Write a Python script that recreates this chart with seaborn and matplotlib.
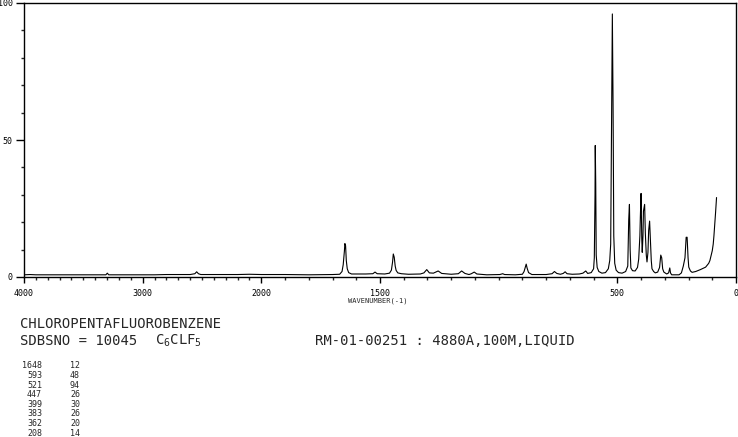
import numpy as np
import pandas as pd
import seaborn as sns
import matplotlib.pyplot as plt
from matplotlib.ticker import FixedLocator

# Raman spectrum (wavenumber cm-1, relative intensity %)
wavenumber = [4000, 3950, 3900, 3700, 3310, 3298, 3286, 3000, 2900, 2800,
              2600, 2560, 2545, 2530, 2510, 2400, 2200, 2100, 2000, 1900,
              1800, 1700, 1670, 1660, 1655, 1650, 1648, 1645, 1642, 1638,
              1632, 1620, 1560, 1530, 1521, 1512, 1480, 1460, 1452, 1447,
              1444, 1440, 1436, 1432, 1425, 1410, 1380, 1330, 1315, 1303,
              1292, 1275, 1255, 1240, 1200, 1170, 1156, 1142, 1125, 1115,
              1103, 1092, 1050, 995, 983, 975, 930, 900, 893, 888,
              884, 880, 874, 860, 800, 775, 765, 755, 740, 728,
              720, 712, 690, 660, 645, 633, 625, 610, 600, 597,
              594, 593, 591, 589, 585, 578, 565, 550, 538, 532,
              528, 525, 521, 518, 515, 511, 505, 495, 480, 465,
              456, 452, 449, 446, 443, 436, 425, 415, 410, 405,
              403, 400, 397, 395, 392, 390, 385, 382, 378, 375,
              371, 368, 364, 361, 357, 354, 347, 340, 330, 322,
              317, 313, 309, 304, 292, 284, 279, 276, 271, 240,
              230, 222, 215, 210, 206, 202, 199, 192, 185, 170,
              150, 128, 115, 110, 103, 100, 96, 93, 90, 86, 82]
intensity = [0.8, 0.9, 0.8, 0.8, 0.8, 1.4, 0.8, 0.8, 0.8, 0.9,
             0.9, 1.2, 1.9, 1.2, 0.9, 0.9, 0.9, 1.0, 0.9, 0.9,
             0.8, 0.9, 1.0, 2.0, 4.5, 9.5, 12.2, 11.4, 6.0, 3.0,
             1.6, 1.1, 1.1, 1.2, 1.8, 1.2, 1.1, 1.4, 2.5, 5.5,
             8.4, 7.2, 4.0, 2.4, 1.5, 1.2, 1.0, 1.1, 1.5, 2.7,
             1.5, 1.4, 2.2, 1.3, 1.0, 1.2, 2.2, 1.3, 0.9, 1.2,
             1.8, 1.1, 0.8, 0.9, 1.2, 0.9, 0.8, 1.0, 2.0, 3.5,
             4.7, 3.2, 1.6, 0.9, 0.9, 1.2, 2.0, 1.3, 1.0, 1.3,
             1.9, 1.2, 1.0, 1.1, 1.4, 2.2, 1.3, 1.6, 3.0, 7.0,
             30.0, 48.0, 34.0, 8.0, 3.5, 2.0, 1.4, 1.6, 3.0, 6.0,
             12.0, 47.0, 96.0, 63.0, 15.0, 5.0, 2.5, 1.6, 1.4, 2.0,
             4.0, 21.0, 26.5, 10.0, 3.3, 2.3, 2.2, 3.5, 6.5, 15.0,
             22.0, 30.5, 14.0, 9.0, 15.0, 24.0, 26.5, 16.0, 8.0, 5.5,
             9.0, 17.0, 20.4, 14.0, 6.0, 3.0, 2.0, 1.5, 1.8, 3.5,
             8.0, 7.0, 3.0, 1.8, 1.1, 1.5, 3.3, 1.5, 0.8, 0.8,
             1.5, 4.0, 7.0, 14.5, 14.5, 7.0, 3.6, 2.2, 1.7, 2.0,
             2.7, 3.6, 5.0, 6.0, 8.5, 9.6, 12.0, 15.0, 18.5, 23.6, 29.0]

# peak table printed under the chart
peak_wn = [1648, 593, 521, 447, 399, 383, 362, 208]
peak_int = [12, 48, 94, 26, 30, 26, 20, 14]

x_ticks = [4000, 3000, 2000, 1500, 500, 0]
y_ticks = [0, 50, 100]


# above 2000 cm-1 the axis is compressed to half scale
def fwd(x):
    x = np.asarray(x, dtype=float)
    return np.where(x > 2000, 2000 + (x - 2000) / 2, x)


def inv(x):
    x = np.asarray(x, dtype=float)
    return np.where(x > 2000, 2000 + (x - 2000) * 2, x)


sns.set_style("white")
plt.rcParams['font.family'] = ['DejaVu Sans Mono']

W, H = 738, 437
fig = plt.figure(figsize=(W / 100, H / 100), dpi=100)
ax = fig.add_axes([24 / W, 1 - 277 / H, (736 - 24) / W, (277 - 3) / H])

df = pd.DataFrame({'wn': wavenumber, 'int': intensity})
sns.lineplot(data=df, x='wn', y='int', ax=ax, color='black', linewidth=0.8,
             estimator=None, sort=False)

ax.set_xscale('function', functions=(fwd, inv))
ax.set_xlim(4000, 0)
ax.set_ylim(0, 100)

ax.xaxis.set_major_locator(FixedLocator(x_ticks))
ax.set_xticklabels([str(t) for t in x_ticks])
ax.xaxis.set_minor_locator(FixedLocator(list(range(0, 4001, 100))))
ax.yaxis.set_major_locator(FixedLocator(y_ticks))
ax.set_yticklabels([str(t) for t in y_ticks])
ax.yaxis.set_minor_locator(FixedLocator(list(range(0, 101, 10))))

ax.tick_params(which='major', direction='out', width=1, labelsize=6,
               colors='black', bottom=True, left=True)
ax.tick_params(axis='x', which='major', length=4, pad=5)
ax.tick_params(axis='y', which='major', length=6, pad=2)
ax.tick_params(which='minor', direction='out', length=2, width=1,
               bottom=True, left=True)
for s in ax.spines.values():
    s.set_color('black')
    s.set_linewidth(1)
ax.set_xlabel('')
ax.set_ylabel('')
ax.grid(False)


def px(x, y):
    return x / W, 1 - y / H


fig.text(*px(378, 301), 'WAVENUMBER(-1)', fontsize=5, ha='center', va='center')

fig.text(*px(20, 324), 'CHLOROPENTAFLUOROBENZENE', fontsize=10, va='center')
fig.text(*px(20, 341), 'SDBSNO = 10045', fontsize=10, va='center')
fig.text(*px(155, 341), r'$\mathregular{C_6CLF_5}$', fontsize=10, va='center')
fig.text(*px(315, 341), 'RM-01-00251 : 4880A,100M,LIQUID', fontsize=10, va='center')

for i, (w, p) in enumerate(zip(peak_wn, peak_int)):
    y = 366 + i * 9.6
    fig.text(*px(42, y), str(w), fontsize=6, ha='right', va='center')
    fig.text(*px(70, y), str(p), fontsize=6, ha='left', va='center')

fig.savefig('out.png', dpi=100)
